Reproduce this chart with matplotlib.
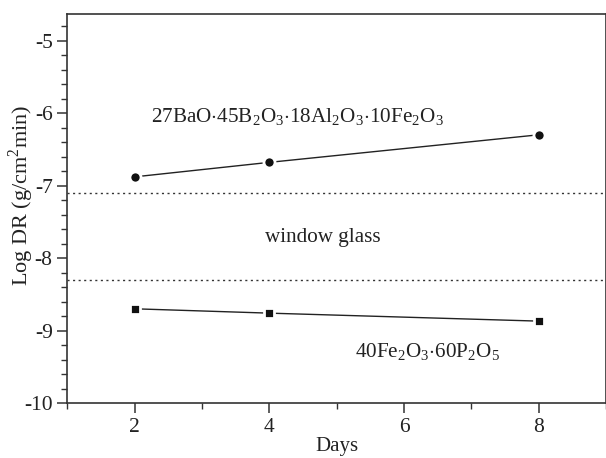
import matplotlib
matplotlib.use('Agg')
import matplotlib.pyplot as plt
from matplotlib.ticker import MultipleLocator

plt.rcParams['font.family'] = ['Liberation Serif', 'DejaVu Serif']
plt.rcParams['mathtext.fontset'] = 'custom'
plt.rcParams['mathtext.rm'] = 'Liberation Serif'
plt.rcParams['axes.unicode_minus'] = False

# data
days = [2, 4, 8]
ba_glass = [-6.88, -6.68, -6.30]
fe_glass = [-8.70, -8.76, -8.87]
window_glass = [-7.1, -8.3]

fig = plt.figure(figsize=(6.06, 4.58), dpi=100)
ax = fig.add_axes([0.111, 0.12, 0.889, 0.85])

ax.plot(days, ba_glass, '-', color='#222222', lw=1.0, marker='o', ms=8,
        mfc='#111111', mec='white', mew=2.0)
ax.plot(days, fe_glass, '-', color='#222222', lw=1.0, marker='s', ms=7.5,
        mfc='#111111', mec='white', mew=2.0)
for y in window_glass:
    ax.axhline(y, color='#333333', lw=1.0, ls=(0, (1.5, 2.5)))

ax.text(2.25, -6.06, r'27BaO$\cdot$45B$_2$O$_3$$\cdot$18Al$_2$O$_3$$\cdot$10Fe$_2$O$_3$',
        fontsize=15.2, va='center', color='#222222')
ax.text(3.93, -7.71, 'window glass', fontsize=15.2, va='center', color='#222222')
ax.text(5.28, -9.3, r'40Fe$_2$O$_3$$\cdot$60P$_2$O$_5$', fontsize=15.2,
        va='center', color='#222222')

ax.set_xlim(1, 9)
ax.set_ylim(-10, -4.63)
ax.xaxis.set_minor_locator(MultipleLocator(1))
ax.yaxis.set_minor_locator(MultipleLocator(0.2))
ax.set_xticks([2, 4, 6, 8])
ax.set_yticks([-10, -9, -8, -7, -6, -5])
ax.tick_params(which='major', direction='out', length=7, width=1.1,
               labelsize=15.5, colors='#333333', labelcolor='#222222')
ax.tick_params(which='minor', direction='out', length=4, width=1.0, colors='#333333')
ax.tick_params(axis='x', which='both', top=False)
ax.tick_params(axis='y', which='both', right=False)

for s in ax.spines.values():
    s.set_linewidth(1.2)
    s.set_color('#333333')

ax.set_xlabel('Days', fontsize=15, color='#222222', labelpad=0)
ax.set_ylabel(r'Log DR (g/cm$^2$min)', fontsize=16, color='#222222', va='center')
ax.yaxis.set_label_coords(-0.086, 0.535)

fig.savefig('out.png', dpi=100)
